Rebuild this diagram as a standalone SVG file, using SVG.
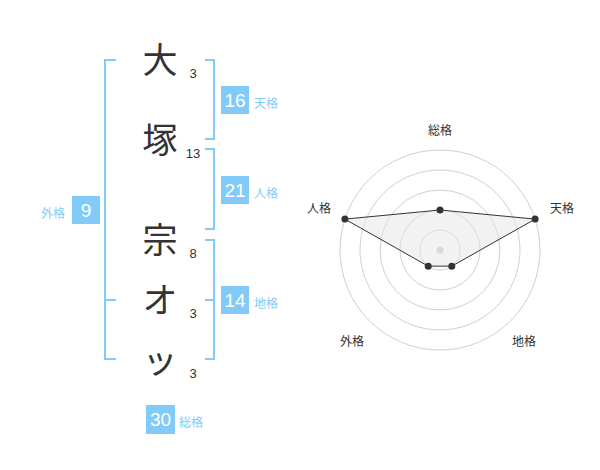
<svg xmlns="http://www.w3.org/2000/svg" width="600" height="470" viewBox="0 0 600 470">
<style>
.ch{font-family:"Noto Sans CJK JP","Noto Sans CJK SC",sans-serif;font-size:35px;fill:#333;text-anchor:middle}
.sn{font-family:"Liberation Sans",Arial,sans-serif;font-size:13px;fill:#333;text-anchor:middle}
.br{fill:none;stroke:#82cbf9;stroke-width:2}
.bx{fill:#82cbf9}
.bn{font-family:"Liberation Sans",Arial,sans-serif;font-size:19px;fill:#fff;text-anchor:middle}
.bl{font-family:"Noto Sans CJK JP","Noto Sans CJK SC",sans-serif;font-size:12px;fill:#82cbf9}
.ring{fill:none;stroke:#d0d0d0;stroke-width:1}
.rl{font-family:"Noto Sans CJK JP","Noto Sans CJK SC",sans-serif;font-size:12px;fill:#333;text-anchor:middle}
.dot{fill:#333}
</style>
<rect width="600" height="470" fill="#fff"/>
<g id="name">
<text class="ch" x="160" y="73">大</text>
<text class="ch" x="160" y="153">塚</text>
<text class="ch" x="160" y="253">宗</text>
<text class="ch" x="160" y="313">オ</text>
<text class="ch" x="160" y="373">ッ</text>
<text class="sn" x="193" y="78">3</text>
<text class="sn" x="193" y="158">13</text>
<text class="sn" x="193" y="258">8</text>
<text class="sn" x="193" y="318">3</text>
<text class="sn" x="193" y="378">3</text>
</g>
<g id="connectors">
<path class="br" d="M116,60H105V359H116M105,300H116"/>
<path class="br" d="M205,60H214V139H205"/>
<path class="br" d="M205,149H214V229H205"/>
<path class="br" d="M205,240H214V359H205M205,300H214"/>
</g>
<g id="tenkaku">
<rect class="bx" x="221" y="86" width="28" height="28"/>
<text class="bn" x="235" y="107">16</text>
<text class="bl" x="254" y="108">天格</text>
</g>
<g id="jinkaku">
<rect class="bx" x="221" y="176" width="28" height="28"/>
<text class="bn" x="235" y="197">21</text>
<text class="bl" x="254" y="198">人格</text>
</g>
<g id="chikaku">
<rect class="bx" x="221" y="286" width="28" height="28"/>
<text class="bn" x="235" y="307">14</text>
<text class="bl" x="254" y="308">地格</text>
</g>
<g id="gaikaku">
<rect class="bx" x="72" y="196" width="28" height="28"/>
<text class="bn" x="86" y="217">9</text>
<text class="bl" x="65" y="218" text-anchor="end">外格</text>
</g>
<g id="soukaku">
<rect class="bx" x="146" y="405" width="29" height="29"/>
<text class="bn" x="160.5" y="426">30</text>
<text class="bl" x="179" y="427">総格</text>
</g>
<g id="radar">
<circle class="ring" cx="440" cy="250" r="20"/>
<circle class="ring" cx="440" cy="250" r="40"/>
<circle class="ring" cx="440" cy="250" r="60"/>
<circle class="ring" cx="440" cy="250" r="80"/>
<circle class="ring" cx="440" cy="250" r="100"/>
<circle cx="440" cy="250" r="3.5" fill="#ccc"/>
<polygon points="440,210 535.11,219.1 451.76,266.18 428.24,266.18 344.89,219.1" fill="#e6e6e6" fill-opacity="0.5" stroke="#333" stroke-width="1"/>
<circle class="dot" cx="440" cy="210" r="3.5"/>
<circle class="dot" cx="535.11" cy="219.1" r="3.5"/>
<circle class="dot" cx="451.76" cy="266.18" r="3.5"/>
<circle class="dot" cx="428.24" cy="266.18" r="3.5"/>
<circle class="dot" cx="344.89" cy="219.1" r="3.5"/>
<text class="rl" x="440" y="135">総格</text>
<text class="rl" x="562" y="213">天格</text>
<text class="rl" x="319" y="213">人格</text>
<text class="rl" x="352" y="346">外格</text>
<text class="rl" x="524" y="346">地格</text>
</g>
</svg>
